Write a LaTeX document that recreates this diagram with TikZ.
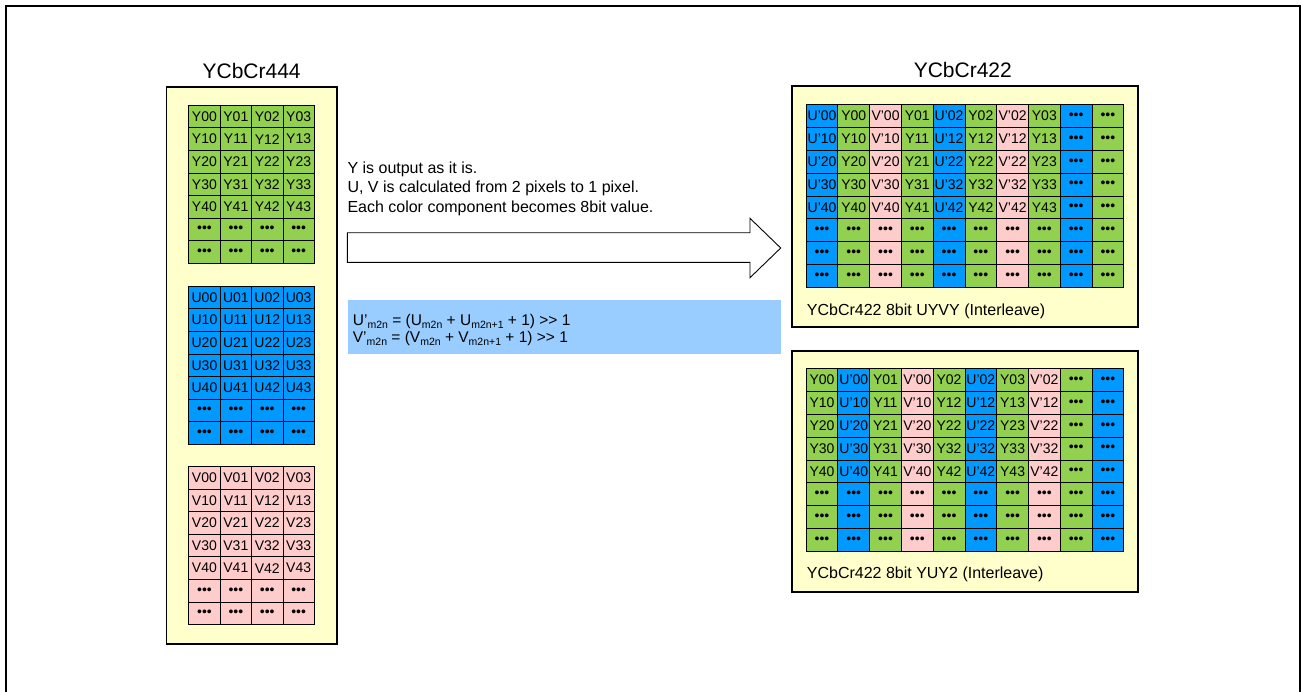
\documentclass[tikz,border=0pt]{standalone}
\usepackage{fontspec}
\setmainfont{Liberation Sans}
\usetikzlibrary{positioning}
\definecolor{ycolor}{HTML}{92D050}
\definecolor{ucolor}{HTML}{0099FF}
\definecolor{vcolor}{HTML}{FFCCCC}
\definecolor{panelcolor}{HTML}{FFFFCC}
\definecolor{formcolor}{HTML}{99CCFF}
\newcommand{\ddd}{•••}
\newcommand{\lowtxt}[1]{\raisebox{-0.35ex}{\fontsize{10.5}{11}\selectfont #1}}
\newcommand{\gtgt}{>\kern0pt>}

\begin{document}
\begin{tikzpicture}[
    x=1pt, y=-1pt,
    cell/.style={rectangle, draw, line width=0.9pt, inner sep=0pt, anchor=north west, font=\fontsize{14}{15}\selectfont},
    lcell/.style={cell, minimum width=31.4pt, minimum height=22.6pt},
    rcell/.style={cell, minimum width=31.76pt, minimum height=22.8pt},
    panel/.style={rectangle, draw, line width=1.6pt, fill=panelcolor, anchor=north west, inner sep=0pt},
    title/.style={inner sep=0pt, font=\fontsize{21}{24}\selectfont},
    caption/.style={inner sep=0pt, anchor=base west, font=\fontsize{16}{18}\selectfont},
    desc/.style={inner sep=0pt, anchor=base west, font=\fontsize{16}{19}\selectfont},
    formula/.style={inner sep=0pt, anchor=base west, font=\fontsize{15.5}{17}\selectfont}
]
\useasboundingbox (0,0) rectangle (1301,691);
\draw[line width=2pt] (6,6) rectangle (1299.5,720);

% panels
\node[panel, minimum width=170.3pt, minimum height=557.3pt] (p444) at (165.7,86) {};
\node[panel, minimum width=346pt, minimum height=241pt] (puyvy) at (791,85) {};
\node[panel, minimum width=346pt, minimum height=241pt] (pyuy2) at (791,350) {};

\node[title, above=7pt of p444] (t444) {YCbCr444};
\node[title, above=7pt of puyvy, xshift=-2pt] (t422) {YCbCr422};

% YCbCr444 planes
\foreach \g/\lt/\gy/\clr in {y/Y/104.8/ycolor, u/U/285.8/ucolor, v/V/466/vcolor}{
  \foreach \r in {0,...,6}{
    \foreach \c in {0,...,3}{
      \ifnum\r<5 \def\txt{\lt\r\c}\else\def\txt{\ddd}\fi
      \node[lcell, fill=\clr] (\g-\r-\c) at ({188.3+31.4*\c},{\gy+22.6*\r}) {\txt};
    }
  }
}

% UYVY interleave
\foreach \c/\clr/\lt/\cc in {0/ucolor/U’/0, 1/ycolor/Y/0, 2/vcolor/V’/0, 3/ycolor/Y/1, 4/ucolor/U’/2, 5/ycolor/Y/2, 6/vcolor/V’/2, 7/ycolor/Y/3, 8/ucolor/-/-, 9/ycolor/-/-}{
  \foreach \r in {0,...,7}{
    \ifnum\r>4 \def\txt{\ddd}\else\ifnum\c>7 \def\txt{\ddd}\else\def\txt{\lt\r\cc}\fi\fi
    \node[rcell, fill=\clr] (uyvy-\r-\c) at ({805.7+31.76*\c},{104.3+22.8*\r}) {\txt};
  }
}
\node[caption] (cuyvy) at (806.7,315) {YCbCr422 8bit UYVY (Interleave)};

% YUY2 interleave
\foreach \c/\clr/\lt/\cc in {0/ycolor/Y/0, 1/ucolor/U’/0, 2/ycolor/Y/1, 3/vcolor/V’/0, 4/ycolor/Y/2, 5/ucolor/U’/2, 6/ycolor/Y/3, 7/vcolor/V’/2, 8/ycolor/-/-, 9/ucolor/-/-}{
  \foreach \r in {0,...,7}{
    \ifnum\r>4 \def\txt{\ddd}\else\ifnum\c>7 \def\txt{\ddd}\else\def\txt{\lt\r\cc}\fi\fi
    \node[rcell, fill=\clr] (yuy2-\r-\c) at ({805.7+31.76*\c},{368.3+22.8*\r}) {\txt};
  }
}
\node[caption] (cyuy2) at (806.7,578.3) {YCbCr422 8bit YUY2 (Interleave)};

% conversion notes
\node[desc] (d1) at (347.3,173.3) {Y is output as it is.};
\node[desc] (d2) at (347.3,192.8) {U, V is calculated from 2 pixels to 1 pixel.};
\node[desc] (d3) at (347.3,212.3) {Each color component becomes 8bit value.};

\draw[line width=0.9pt, fill=white] (347.3,232.7) -- (750,232.7) -- (750,218.3) -- (780.7,248)
    -- (750,277.7) -- (750,262.3) -- (347.3,262.3) -- cycle;

\node[rectangle, fill=formcolor, anchor=north west, minimum width=433.4pt, minimum height=53.3pt, inner sep=0pt] (fbox) at (347.3,300) {};
\node[formula] (f1) at (352.7,325.7) {U’\lowtxt{m2n} = (U\lowtxt{m2n} + U\lowtxt{m2n+1} + 1) \gtgt{} 1};
\node[formula] (f2) at (352.7,342.3) {V’\lowtxt{m2n} = (V\lowtxt{m2n} + V\lowtxt{m2n+1} + 1) \gtgt{} 1};
\end{tikzpicture}
\end{document}
